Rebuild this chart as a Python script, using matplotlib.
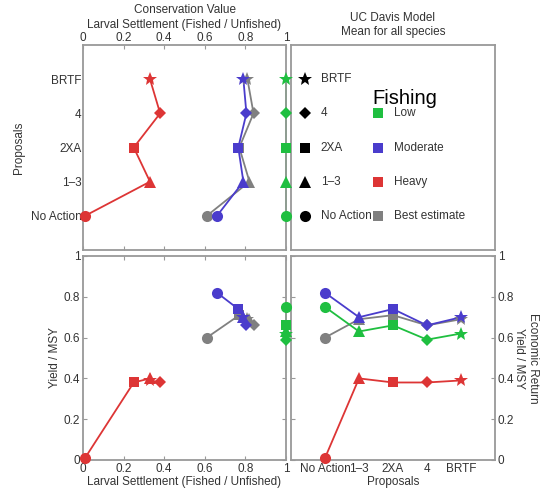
import numpy as np
import matplotlib
matplotlib.use('Agg')
import matplotlib.pyplot as plt

plt.rcParams['font.family'] = ['Liberation Sans', 'DejaVu Sans']
plt.rcParams['font.size'] = 8.5

###### Data ######

proposals = ['No Action', '1\u20133', '2XA', '4', 'BRTF']
markers = ['o', '^', 's', 'D', '*']

# larval settlement (fished / unfished)
settle_low = [1.0, 1.0, 1.0, 1.0, 1.0]
settle_moderate = [0.66, 0.79, 0.765, 0.805, 0.79]
settle_heavy = [0.01, 0.33, 0.25, 0.38, 0.33]
settle_best = [0.61, 0.82, 0.77, 0.84, 0.81]

# yield / MSY
yield_low = [0.75, 0.63, 0.66, 0.59, 0.62]
yield_moderate = [0.82, 0.70, 0.74, 0.66, 0.70]
yield_heavy = [0.01, 0.40, 0.38, 0.38, 0.39]
yield_best = [0.60, 0.69, 0.71, 0.66, 0.69]

fishing_levels = ['Low', 'Moderate', 'Heavy', 'Best estimate']

#### styles ####
txt_c = '#333333'
frame_c = '#999999'
c_low = '#1fbf40'
c_mod = '#4a3ccc'
c_heavy = '#dd3535'
c_best = '#808080'
msize = {'o': 8, '^': 8, 's': 6.5, 'D': 6.3, '*': 10}
fs = 8.5

# draw order: gray first, blue over it
series = [
    (settle_best, yield_best, c_best),
    (settle_heavy, yield_heavy, c_heavy),
    (settle_moderate, yield_moderate, c_mod),
    (settle_low, yield_low, c_low),
]
legend_colors = [c_low, c_mod, c_heavy, c_best]

plt.rcParams['text.color'] = txt_c
plt.rcParams['axes.labelcolor'] = txt_c
plt.rcParams['xtick.color'] = frame_c
plt.rcParams['ytick.color'] = frame_c
plt.rcParams['xtick.labelcolor'] = txt_c
plt.rcParams['ytick.labelcolor'] = txt_c

W, H = 545, 492
fig = plt.figure(figsize=(W / 100, H / 100), dpi=100)


def px_axes(x0, y0, x1, y1):
    return fig.add_axes([x0 / W, 1 - y1 / H, (x1 - x0) / W, (y1 - y0) / H])


ax_tl = px_axes(83, 45, 286, 250)
ax_tr = px_axes(291, 45, 495, 250)
ax_bl = px_axes(83, 256, 286, 460)
ax_br = px_axes(291, 256, 495, 460)

# left panels on top so the x=1 markers spill over the right panels
ax_tl.set_zorder(3)
ax_bl.set_zorder(3)
ax_tl.patch.set_alpha(0)
ax_bl.patch.set_alpha(0)

for ax in [ax_tl, ax_tr, ax_bl, ax_br]:
    for sp in ax.spines.values():
        sp.set_color(frame_c)
        sp.set_linewidth(1.3)
    ax.tick_params(direction='in', length=3, width=0.8, labelsize=fs, pad=2)

pos = np.arange(1, len(proposals) + 1)
frac_ticks = [0, 0.2, 0.4, 0.6, 0.8, 1]
frac_labels = ['0', '0.2', '0.4', '0.6', '0.8', '1']


def draw_series(ax, xs, ys, color, order=None):
    xs = np.asarray(xs)
    ys = np.asarray(ys)
    idx = np.arange(len(xs)) if order is None else order
    ax.plot(xs[idx], ys[idx], '-', color=color, lw=1.3, clip_on=False, zorder=2)
    for k in range(len(xs)):
        m = markers[k]
        ax.plot(xs[k], ys[k], marker=m, color=color, ms=msize[m],
                markeredgewidth=0, linestyle='none', clip_on=False, zorder=3)


###### top left: settlement vs proposal ######
for sx, sy, c in series:
    draw_series(ax_tl, sx, pos, c)
ax_tl.set_xlim(0, 1)
ax_tl.set_ylim(0, 6)
ax_tl.xaxis.tick_top()
ax_tl.tick_params(top=True, bottom=True, left=True, right=True)
ax_tl.tick_params(axis='x', pad=0.5)
ax_tl.set_xticks(frac_ticks)
ax_tl.set_xticklabels(frac_labels)
ax_tl.set_yticks(pos)
ax_tl.set_yticklabels(proposals)
ax_tl.tick_params(axis='y', length=0, pad=1)
ax_tl.xaxis.set_label_position('top')
ax_tl.set_xlabel('Conservation Value\nLarval Settlement (Fished / Unfished)',
                 fontsize=fs, labelpad=3, linespacing=1.35)
ax_tl.set_ylabel('Proposals', fontsize=fs, labelpad=4)

###### top right: legend panel ######
ax_tr.set_xlim(0, 1)
ax_tr.set_ylim(0, 6)
ax_tr.set_xticks([])
ax_tr.set_yticks([])
ax_tr.set_title('UC Davis Model\nMean for all species', fontsize=fs,
                pad=7, linespacing=1.25, color=txt_c)
for k in range(len(proposals)):
    m = markers[k]
    ax_tr.plot(0.069, pos[k], marker=m, color='black', ms=msize[m],
               markeredgewidth=0, linestyle='none')
    ax_tr.text(0.145, pos[k], proposals[k], va='center', ha='left', fontsize=fs)
for k in range(len(fishing_levels)):
    yy = 4 - k
    ax_tr.plot(0.425, yy, marker='s', color=legend_colors[k], ms=6.5,
               markeredgewidth=0, linestyle='none')
    ax_tr.text(0.505, yy, fishing_levels[k], va='center', ha='left', fontsize=fs)
ax_tr.text(0.40, 4.42, 'Fishing', va='center', ha='left', fontsize=14.5,
           color='black')

###### bottom left: yield vs settlement ######
for sx, sy, c in series:
    draw_series(ax_bl, sx, sy, c, order=np.argsort(sx, kind='stable'))
ax_bl.set_xlim(0, 1)
ax_bl.set_ylim(0, 1)
ax_bl.set_xticks(frac_ticks)
ax_bl.set_xticklabels(frac_labels)
ax_bl.set_yticks(frac_ticks)
ax_bl.set_yticklabels(frac_labels)
ax_bl.tick_params(top=True, right=True)
ax_bl.set_xlabel('Larval Settlement (Fished / Unfished)', fontsize=fs, labelpad=1)
ax_bl.set_ylabel('Yield / MSY', fontsize=fs, labelpad=2)

###### bottom right: yield vs proposal ######
for sx, sy, c in series:
    draw_series(ax_br, pos, sy, c)
ax_br.set_xlim(0, 6)
ax_br.set_ylim(0, 1)
ax_br.set_xticks(pos)
ax_br.set_xticklabels(proposals)
ax_br.tick_params(axis='x', length=0)
ax_br.yaxis.tick_right()
ax_br.yaxis.set_label_position('right')
ax_br.set_yticks(frac_ticks)
ax_br.set_yticklabels(frac_labels)
ax_br.tick_params(axis='y', left=True, right=True)
ax_br.set_xlabel('Proposals', fontsize=fs, labelpad=1)
ax_br.set_ylabel('Economic Return\nYield / MSY', fontsize=fs, rotation=270,
                 va='center', ha='center', linespacing=1.2)
ax_br.yaxis.set_label_coords(1.15, 0.5)

plt.savefig('out.png', dpi=100, facecolor='w')
